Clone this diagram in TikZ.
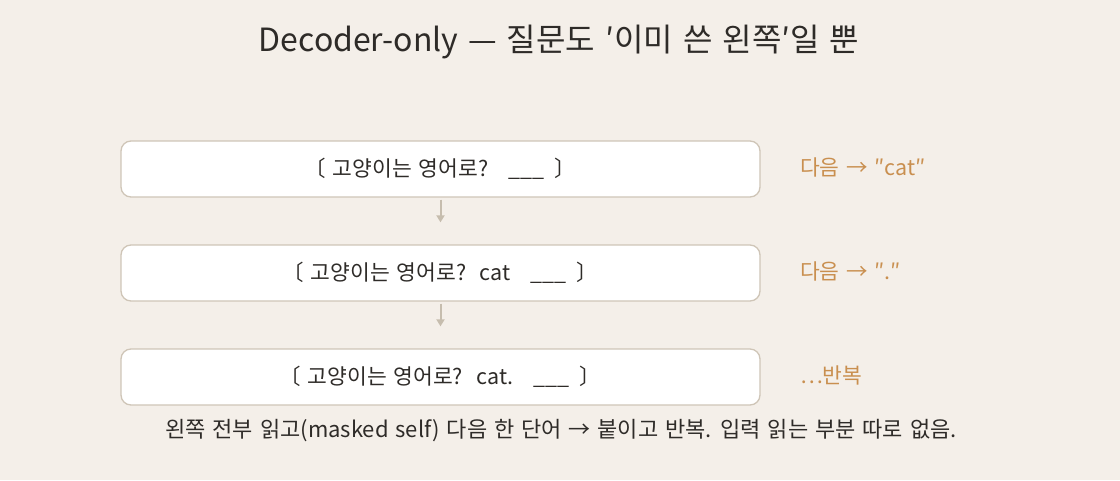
\documentclass[tikz,border=0pt]{standalone}
\usepackage{fontspec}
\setmainfont{Noto Sans CJK KR}[WordSpace=1.4]
\usetikzlibrary{arrows.meta,calc}
\definecolor{bg}{HTML}{F4EFE9}
\definecolor{boxline}{HTML}{CFC5B7}
\definecolor{arr}{HTML}{C6BDAE}
\definecolor{ink}{HTML}{2E2B28}
\definecolor{accent}{HTML}{C98F4F}
\newcommand{\bodyfont}{\fontsize{21.5}{25}\selectfont}
\tikzset{
  stepbox/.style={draw=boxline, line width=1.3pt, fill=white, rounded corners=10pt,
    minimum width=639pt, minimum height=56pt, inner sep=0pt, text=ink,
    font=\bodyfont},
  nextlbl/.style={anchor=west, text=accent, inner sep=0pt, font=\bodyfont},
  flow/.style={draw=arr, line width=2pt, -{Triangle[length=7pt,width=8pt]}},
}
\begin{document}
\begin{tikzpicture}[x=1pt,y=-1pt]
\fill[bg] (0,0) rectangle (1120,480);
\useasboundingbox (0,0) rectangle (1120,480);
\node[text=ink, font=\fontsize{32}{38}\selectfont] (title) at (559,42) {Decoder-only — 질문도 ′이미 쓴 왼쪽′일 뿐};
\node[stepbox] (b1) at (440.5,169) {〔 고양이는 영어로?\ \ \ \_\_\_\ \,〕};
\node[stepbox] (b2) at (440.5,273) {〔 고양이는 영어로?\ \ cat\ \ \ \_\_\_\ \,〕};
\node[stepbox] (b3) at (440.5,377) {〔 고양이는 영어로?\ \ cat.\ \ \ \_\_\_\ \,〕};
\node[nextlbl] (n1) at (800,167) {다음 → ″cat″};
\node[nextlbl] (n2) at (800,271) {다음 → ″.″};
\node[nextlbl] (n3) at (800,375) {⋯반복};
\draw[flow] ($(b1.south)+(0,2)$) -- ($(b2.north)+(0,-22)$);
\draw[flow] ($(b2.south)+(0,2)$) -- ($(b3.north)+(0,-22)$);
\node[text=ink, font=\fontsize{22}{26}\selectfont] (foot) at (561,431) {왼쪽 전부 읽고(masked self) 다음 한 단어 → 붙이고 반복. 입력 읽는 부분 따로 없음.};
\end{tikzpicture}
\end{document}
